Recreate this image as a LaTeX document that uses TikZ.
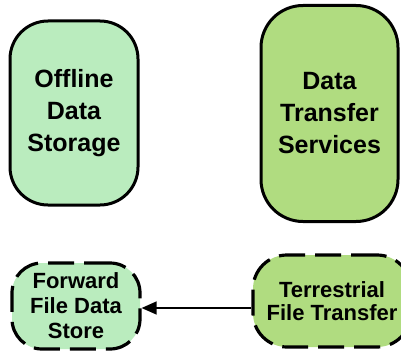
\documentclass[tikz,border=0pt]{standalone}
\usepackage{fontspec}
\setmainfont{Liberation Sans}
\usetikzlibrary{arrows.meta}
\definecolor{lgreen}{RGB}{186,236,190}
\definecolor{mgreen}{RGB}{176,220,128}
\tikzset{
  bigbox/.style={draw=black, line width=3pt, rounded corners=38pt, align=center,
    font=\fontsize{25}{32}\selectfont\bfseries, inner sep=0pt},
  smallbox/.style={draw=black, line width=3.2pt, rounded corners=30pt, align=center,
    dash pattern=on 26pt off 10pt, inner sep=0pt},
  flow/.style={-{Triangle[length=15pt,width=13pt]}, line width=1.3pt}
}
\begin{document}
\begin{tikzpicture}[x=1pt,y=1pt]
\useasboundingbox (0,0) rectangle (401,-353);
\node[bigbox, fill=lgreen, minimum width=128pt, minimum height=184pt] (ods) at (74,-113) {Offline\\Data\\Storage};
\node[bigbox, fill=mgreen, minimum width=137pt, minimum height=216pt, rounded corners=42pt] (dts) at (329.5,-113.5) {Data\\Transfer\\Services};
\node[smallbox, fill=lgreen, minimum width=128pt, minimum height=86pt, font=\fontsize{22}{25}\selectfont\bfseries] (ffds) at (76,-306) {Forward\\File Data\\Store};
\node[smallbox, fill=mgreen, minimum width=158pt, minimum height=92pt, rounded corners=34pt, font=\fontsize{22}{23}\selectfont\bfseries] (tft) at (332,-301) {Terrestrial\\File Transfer};
\coordinate (tin) at (tft.west |- 0,-308);
\draw[flow] (tin) -- (ffds.east |- tin);
\end{tikzpicture}
\end{document}
